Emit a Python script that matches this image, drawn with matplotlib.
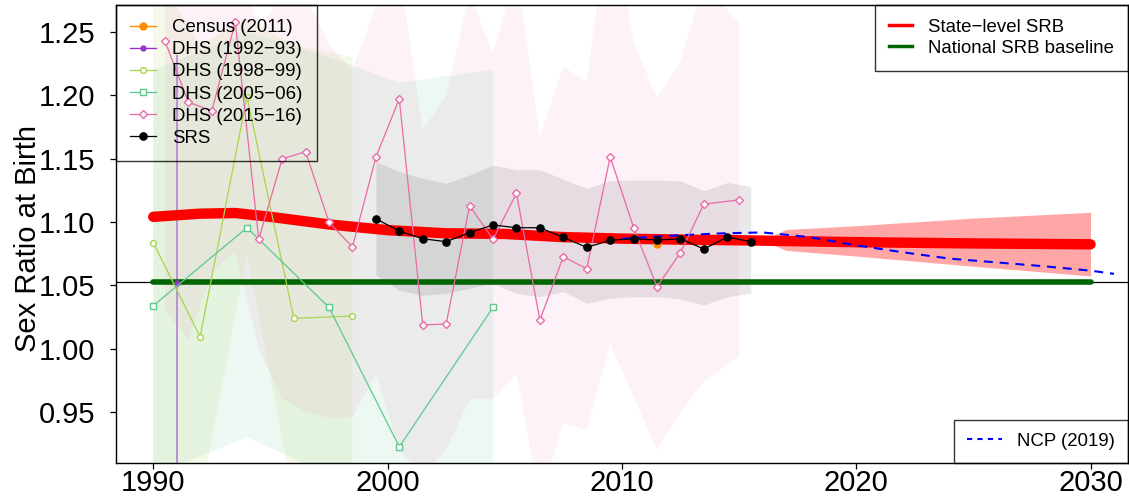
import matplotlib.pyplot as plt
from matplotlib.lines import Line2D

plt.rcParams['font.family'] = ['Liberation Sans', 'DejaVu Sans']

# state-level SRB estimate and national baseline
red_years = [1990, 1992, 1993.5, 1995, 1997.5, 2000, 2002.5, 2005, 2007.5, 2010, 2012.5, 2015, 2020, 2025, 2030]
red_vals = [1.104, 1.1065, 1.107, 1.104, 1.098, 1.0935, 1.091, 1.0905, 1.088, 1.0868, 1.086, 1.0855, 1.084, 1.083, 1.0823]
red_band_years = [2016, 2017, 2020, 2025, 2030]
red_band_lo = [1.0855, 1.0775, 1.073, 1.065, 1.0573]
red_band_hi = [1.0855, 1.094, 1.097, 1.103, 1.1076]
nat_years = [1990, 2030]
nat_vals = [1.0527, 1.0527]

# NCP (2019) projection
ncp_years = [2010, 2012, 2014, 2016, 2018, 2020, 2022, 2024, 2026, 2028, 2030, 2031]
ncp_vals = [1.0867, 1.089, 1.0908, 1.0917, 1.088, 1.0815, 1.076, 1.071, 1.068, 1.065, 1.0615, 1.059]

# data sources
census_years = [2011.5]
census_vals = [1.0825]

dhs1_years = [1991]
dhs1_vals = [1.052]
dhs1_lo = [0.85]
dhs1_hi = [1.232]

dhs2_years = [1990, 1992, 1994, 1996, 1998.5]
dhs2_vals = [1.0836, 1.0093, 1.199, 1.0238, 1.0257]
dhs2_lo = [0.90, 0.88, 1.075, 0.88, 0.88]
dhs2_hi = [1.30, 1.24, 1.26, 1.24, 1.23]

dhs3_years = [1990, 1994, 1997.5, 2000.5, 2004.5]
dhs3_vals = [1.0338, 1.0954, 1.0325, 0.9224, 1.0325]
dhs3_lo = [0.90, 0.93, 0.90, 0.80, 0.85]
dhs3_hi = [1.22, 1.25, 1.23, 1.21, 1.22]

dhs4_years = [1990.5, 1991.5, 1992.5, 1993.5, 1994.5, 1995.5, 1996.5, 1997.5, 1998.5, 1999.5,
              2000.5, 2001.5, 2002.5, 2003.5, 2004.5, 2005.5, 2006.5, 2007.5, 2008.5, 2009.5,
              2010.5, 2011.5, 2012.5, 2013.5, 2015]
dhs4_vals = [1.2429, 1.1945, 1.1878, 1.2577, 1.0862, 1.1497, 1.1555, 1.0997, 1.0802, 1.151,
             1.1973, 1.0186, 1.0194, 1.1128, 1.0862, 1.1226, 1.0225, 1.0725, 1.063, 1.1515,
             1.0954, 1.0488, 1.0757, 1.1141, 1.1173]
dhs4_lo = [1.03, 1.007, 1.06, 1.076, 1.0, 0.96, 0.95, 0.945, 0.946, 0.98,
           0.92, 0.90, 0.92, 0.96, 0.96, 0.9804, 0.88, 0.9409, 0.9356, 1.0041,
           0.9619, 0.9198, 0.95, 0.9738, 0.9935]
dhs4_hi = [1.32, 1.30, 1.30, 1.33, 1.25, 1.28, 1.28, 1.24, 1.22, 1.27,
           1.30, 1.1726, 1.20, 1.28, 1.2332, 1.30, 1.1673, 1.2226, 1.2107, 1.35,
           1.2423, 1.1976, 1.2265, 1.29, 1.2569]

srs_years = [1999.5, 2000.5, 2001.5, 2002.5, 2003.5, 2004.5, 2005.5, 2006.5, 2007.5,
             2008.5, 2009.5, 2010.5, 2011.5, 2012.5, 2013.5, 2014.5, 2015.5]
srs_vals = [1.1025, 1.0928, 1.0867, 1.0844, 1.0915, 1.0976, 1.0954, 1.0954, 1.0878,
            1.0799, 1.0855, 1.0867, 1.0857, 1.0867, 1.0786, 1.0881, 1.0844]
srs_lo = [1.058, 1.046, 1.042, 1.0436, 1.0476, 1.0515, 1.0436, 1.0409, 1.0449,
          1.0357, 1.0397, 1.0409, 1.0409, 1.0391, 1.0344, 1.0409, 1.0436]
srs_hi = [1.1476, 1.1397, 1.1345, 1.1305, 1.137, 1.1449, 1.1412, 1.1412, 1.1338,
          1.1264, 1.1325, 1.133, 1.133, 1.1325, 1.1246, 1.1311, 1.128]

yticks = [0.95, 1.00, 1.05, 1.10, 1.15, 1.20, 1.25]
xticks = [1990, 2000, 2010, 2020, 2030]

fig = plt.figure(figsize=(11.29, 5.01), dpi=100)
ax = fig.add_axes([116/1129, 38/501, 1012/1129, 458/501])

# sampling error bands
ax.fill_between(dhs3_years, dhs3_lo, dhs3_hi, color='#3CB371', alpha=0.09, lw=0)
ax.fill_between(dhs2_years, dhs2_lo, dhs2_hi, color='#9ACD32', alpha=0.1, lw=0)
ax.fill_between(dhs4_years, dhs4_lo, dhs4_hi, color='#E7298A', alpha=0.06, lw=0)
ax.fill_between(srs_years, srs_lo, srs_hi, color='black', alpha=0.09, lw=0)
ax.vlines(dhs1_years, dhs1_lo, dhs1_hi, color='#B68AD6', lw=1.3)

ax.axhline(nat_vals[0], color='black', lw=0.9)
ax.plot(nat_years, nat_vals, color='#006400', lw=4, solid_capstyle='round')
ax.fill_between(red_band_years, red_band_lo, red_band_hi, color='red', alpha=0.35, lw=0)
ax.plot(red_years, red_vals, color='red', lw=7.5, solid_capstyle='round')
ax.plot(ncp_years, ncp_vals, color='blue', lw=1.5, ls=(0, (4.3, 3.3)))

h_census, = ax.plot(census_years, census_vals, color='#FF8C00', marker='o', ms=5,
                    lw=1, label='Census (2011)')
h_dhs1, = ax.plot(dhs1_years, dhs1_vals, color='#9932CC', marker='o', ms=3.5,
                  lw=1, label='DHS (1992\u221293)')
h_dhs2, = ax.plot(dhs2_years, dhs2_vals, color='#A8D44E', marker='o', ms=4.2,
                  mfc='white', mew=1, lw=0.9, label='DHS (1998\u221299)')
h_dhs3, = ax.plot(dhs3_years, dhs3_vals, color='#5CC98E', marker='s', ms=4.2,
                  mfc='white', mew=1, lw=0.9, label='DHS (2005\u221206)')
h_dhs4, = ax.plot(dhs4_years, dhs4_vals, color='#E96AA8', marker='D', ms=4,
                  mfc='white', mew=1, lw=0.9, label='DHS (2015\u221216)')
h_srs, = ax.plot(srs_years, srs_vals, color='black', marker='o', ms=5.2,
                 lw=0.9, label='SRS')

ax.set_xlim(1988.41, 2031.6)
ax.set_ylim(0.9096, 1.2713)
ax.set_xticks(xticks)
ax.set_yticks(yticks)
ax.set_yticklabels(['%.2f' % v for v in yticks])
ax.tick_params(direction='out', length=4, width=0.9, labelsize=21)
ax.tick_params(axis='x', pad=0.5)
ax.tick_params(axis='y', pad=11)
for s in ax.spines.values():
    s.set_linewidth(1)
ax.set_ylabel('Sex Ratio at Birth', fontsize=21)
ax.yaxis.set_label_coords(-0.073, 0.49)

leg_kw = dict(fontsize=13.4, frameon=True, fancybox=False, edgecolor='black',
              facecolor='none', numpoints=1)

leg1 = ax.legend(handles=[h_census, h_dhs1, h_dhs2, h_dhs3, h_dhs4, h_srs],
                 loc='upper left', bbox_to_anchor=(0, 1), borderaxespad=0,
                 borderpad=0.77, labelspacing=0.27, handlelength=1.4,
                 handletextpad=0.86, **leg_kw)
leg1.get_frame().set_linewidth(1)
ax.add_artist(leg1)

leg2 = ax.legend(handles=[Line2D([], [], color='red', lw=2.5),
                          Line2D([], [], color='#006400', lw=2.5)],
                 labels=['State\u2212level SRB', 'National SRB baseline'],
                 loc='upper right', bbox_to_anchor=(1, 1), borderaxespad=0,
                 borderpad=0.75, labelspacing=0.2, handlelength=1.2,
                 handletextpad=0.88, **leg_kw)
leg2.get_frame().set_linewidth(1)
ax.add_artist(leg2)

leg3 = ax.legend(handles=[Line2D([], [], color='blue', lw=1.5, ls=(0, (2.5, 2.5)))],
                 labels=['NCP (2019)'],
                 loc='lower right', bbox_to_anchor=(1, 0), borderaxespad=0,
                 borderpad=0.7, handlelength=1.9, handletextpad=0.8, **leg_kw)
leg3.get_frame().set_linewidth(1)

fig.savefig('out.png', dpi=100)
